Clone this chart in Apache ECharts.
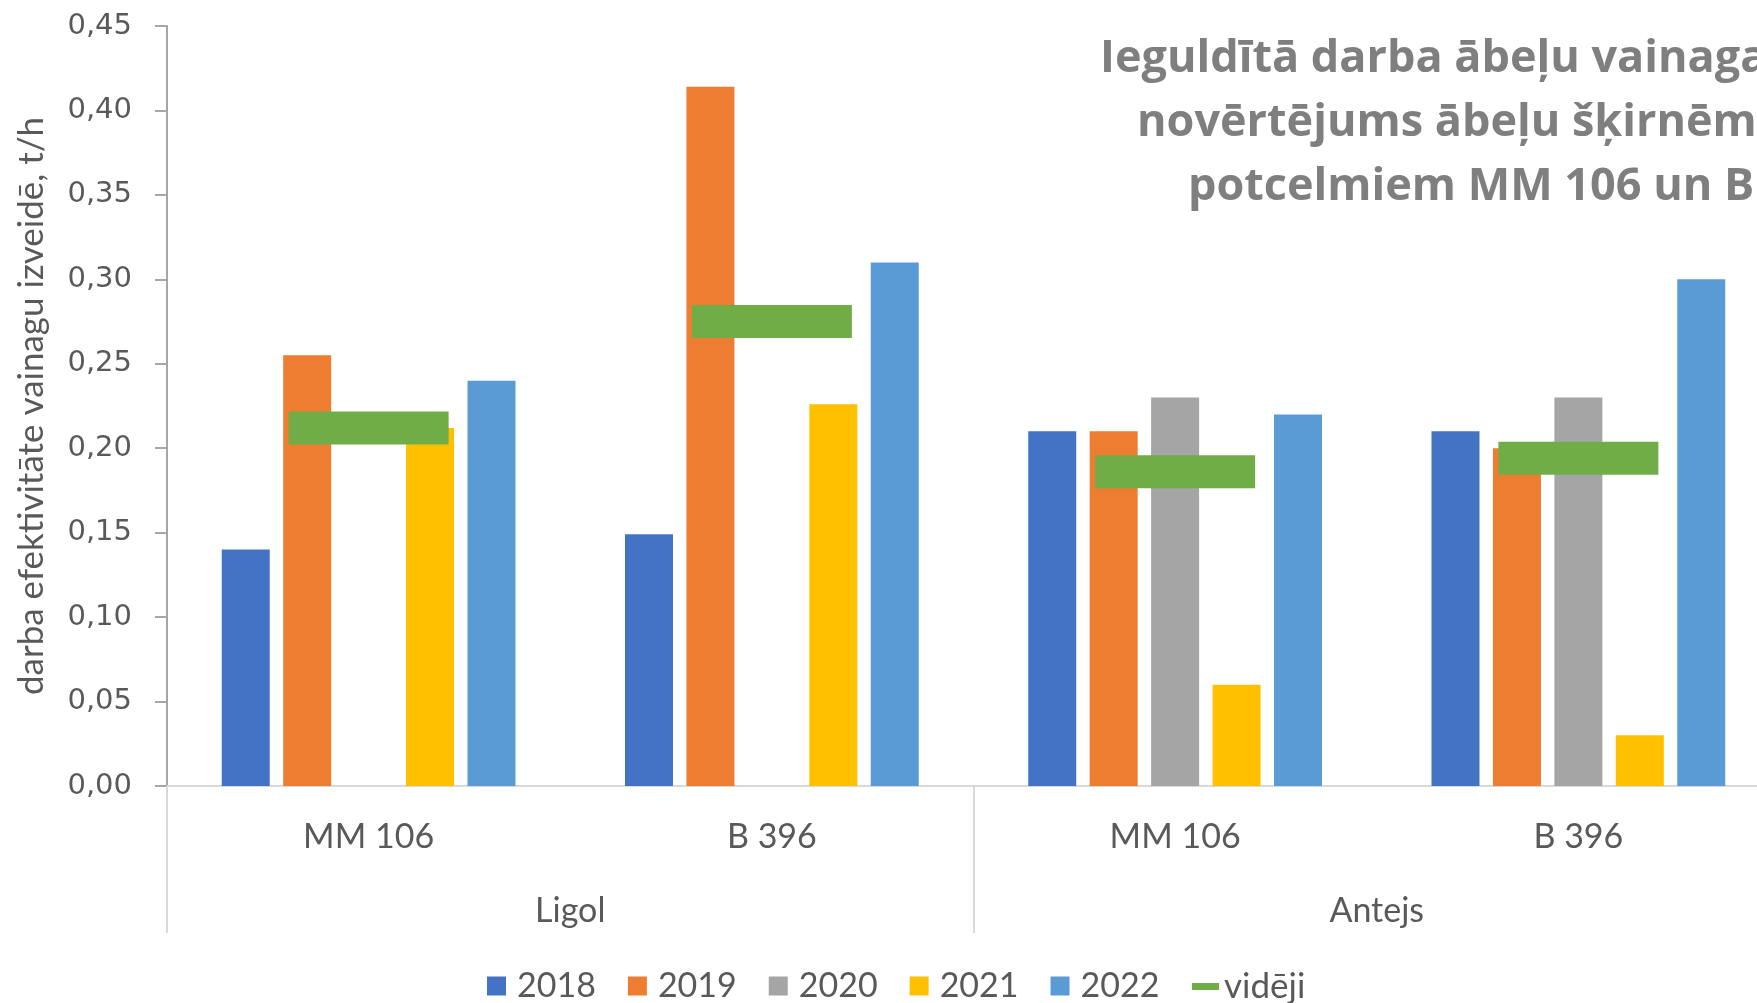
<!DOCTYPE html>
<html lang="lv">
<head>
    <meta charset="UTF-8">
    <title>Ieguldītā darba ābeļu vainaga novērtējums</title>
    <script src="https://cdn.jsdelivr.net/npm/echarts@6/dist/echarts.min.js"></script>
    <style>
        html, body { margin: 0; padding: 0; background: #fff; }
        #chart { width: 1757px; height: 1003px; }
    </style>
</head>
<body>
    <div id="chart"></div>
    <script>
        // potcelmi (apakšējais līmenis) un šķirnes (augšējais līmenis)
        const rootstocks = ['MM 106', 'B 396', 'MM 106', 'B 396'];
        const cultivars = ['Ligol', 'Antejs'];
        const years = ['2018', '2019', '2020', '2021', '2022'];

        const v2018 = [0.140, 0.149, 0.210, 0.210];
        const v2019 = [0.255, 0.414, 0.210, 0.200];
        const v2020 = [null, null, 0.230, 0.230];
        const v2021 = [0.212, 0.226, 0.060, 0.030];
        const v2022 = [0.240, 0.310, 0.220, 0.300];
        const videji = [0.212, 0.275, 0.186, 0.194];

        const yTicks = { min: 0, max: 0.45, interval: 0.05 };

        const colors = ['#4472C4', '#ED7D31', '#A5A5A5', '#FFC000', '#5B9BD5'];
        const green = '#70AD47';
        const textGray = '#595959';
        const font = 'Lato, "Noto Sans", sans-serif';
        const titleFont = 'bold 45px "Open Sans", "Noto Sans", sans-serif';

        const chart = echarts.init(document.getElementById('chart'));

        const yearData = [v2018, v2019, v2020, v2021, v2022];
        const barSeries = years.map((y, i) => ({
            name: y,
            type: 'bar',
            xAxisIndex: 0,
            data: yearData[i],
            barWidth: 48,
            barGap: '28%',
            itemStyle: { color: colors[i] }
        }));

        // virsraksts ir nogriezts pie labās malas, tāpat kā oriģinālā
        const titleLines = [
            'Ieguldītā darba ābeļu vainaga veidošanā',
            'novērtējums ābeļu šķirnēm \u2018Ligol\u2019 un \u2018Antejs\u2019',
            'potcelmiem MM 106 un B 396'
        ];
        const titleX = [1100, 1137, 1188];
        const titleY = [59, 123, 187];

        chart.setOption({
            animation: false,
            grid: { left: 167, top: 26, width: 1613, height: 760, outerBoundsMode: 'none' },
            graphic: titleLines.map((t, i) => ({
                type: 'text',
                x: titleX[i],
                y: titleY[i],
                style: { text: t, font: titleFont, fill: '#7F7F7F', align: 'left', verticalAlign: 'middle' }
            })),
            legend: [
                {
                    data: years,
                    left: 482,
                    top: 964,
                    icon: 'rect',
                    itemWidth: 19,
                    itemHeight: 19,
                    itemGap: 32,
                    textStyle: { fontFamily: font, fontSize: 34, color: textGray, padding: [0, 0, 0, 6] }
                },
                {
                    data: ['vidēji'],
                    left: 1187,
                    top: 964,
                    icon: 'rect',
                    itemWidth: 27,
                    itemHeight: 7,
                    textStyle: { fontFamily: font, fontSize: 35, color: textGray }
                }
            ],
            xAxis: [
                {
                    type: 'category',
                    data: rootstocks,
                    position: 'bottom',
                    axisLine: { lineStyle: { color: '#D9D9D9', width: 2 } },
                    axisTick: { show: false },
                    axisLabel: { fontFamily: font, fontSize: 34, color: textGray, margin: 34 }
                },
                {
                    type: 'category',
                    data: cultivars,
                    position: 'bottom',
                    axisLine: { show: false },
                    axisTick: { show: true, length: 147, lineStyle: { color: '#D9D9D9', width: 2 } },
                    axisLabel: { fontFamily: font, fontSize: 34, color: textGray, margin: 108 }
                }
            ],
            yAxis: {
                type: 'value',
                min: yTicks.min,
                max: yTicks.max,
                interval: yTicks.interval,
                name: 'darba efektivitāte vainagu izveidē, t/h',
                nameLocation: 'middle',
                nameGap: 118,
                nameTextStyle: { fontFamily: font, fontSize: 35, color: textGray },
                splitLine: { show: false },
                axisLine: { show: true, lineStyle: { color: '#A6A6A6', width: 2 } },
                axisTick: { show: true, length: 12, lineStyle: { color: '#A6A6A6', width: 2 } },
                axisLabel: {
                    fontFamily: '"DejaVu Sans", sans-serif',
                    fontSize: 29,
                    color: textGray,
                    margin: 35,
                    formatter: v => v.toFixed(2).replace('.', ',')
                }
            },
            series: barSeries.concat([{
                name: 'vidēji',
                type: 'line',
                xAxisIndex: 0,
                data: videji,
                symbol: 'rect',
                symbolSize: [160, 33],
                lineStyle: { width: 0 },
                itemStyle: { color: green },
                z: 5
            }])
        });
    </script>
</body>
</html>
